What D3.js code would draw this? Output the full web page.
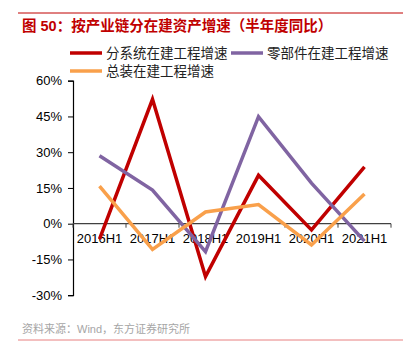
<!DOCTYPE html>
<html>
<head>
<meta charset="utf-8">
<script src="https://cdn.jsdelivr.net/npm/d3@7"></script>
<style>
  body { margin: 0; background: #fff; }
  text { font-family: "Liberation Sans", Arial, "Noto Sans CJK SC", sans-serif; }
</style>
</head>
<body>
<div id="chart"></div>
<script>
// Data
const periods = ["2016H1", "2017H1", "2018H1", "2019H1", "2020H1", "2021H1"];
const subsystem = [-6.5, 52.2, -22.2, 20.3, -2.6, 23.8];   // 分系统在建工程增速
const components = [28.5, 14.1, -11.7, 44.9, 17.0, -7.3];  // 零部件在建工程增速
const assembly = [15.8, -10.8, 4.9, 8.0, -8.9, 12.5];      // 总装在建工程增速
const yTicks = [-30, -15, 0, 15, 30, 45, 60];

const seriesNames = ["分系统在建工程增速", "零部件在建工程增速", "总装在建工程增速"];
const seriesColors = ["#C00000", "#8064A2", "#F9A04B"];
const seriesValues = [subsystem, components, assembly];

const W = 409, H = 359;
const plot = { left: 73, right: 391, top: 80.7, bottom: 295.2 };

const svg = d3.select("#chart").append("svg")
  .attr("width", W)
  .attr("height", H);

// Title and rules
svg.append("line")
  .attr("x1", 18).attr("x2", 403).attr("y1", 13).attr("y2", 13)
  .attr("stroke", "#C00000").attr("stroke-width", 1);
svg.append("text")
  .attr("x", 22).attr("y", 31)
  .attr("fill", "#C00000")
  .attr("font-size", 14.5).attr("font-weight", "bold")
  .text("图 50：按产业链分在建资产增速（半年度同比）");

svg.append("line")
  .attr("x1", 18).attr("x2", 403).attr("y1", 340).attr("y2", 340)
  .attr("stroke", "#E88080").attr("stroke-width", 1);
svg.append("text")
  .attr("x", 22).attr("y", 333)
  .attr("fill", "#A6A6A6")
  .attr("font-size", 11)
  .text("资料来源：Wind，东方证券研究所");

// Scales
const x = d3.scaleBand().domain(periods).range([plot.left, plot.right]);
const y = d3.scaleLinear().domain([-30, 60]).range([plot.bottom, plot.top]);

// Y axis
const yAxis = svg.append("g")
  .attr("transform", `translate(${plot.left},0)`)
  .call(d3.axisLeft(y).tickValues(yTicks).tickSize(5).tickPadding(6).tickFormat((d) => d + "%"));
yAxis.select(".domain").attr("stroke", "#000").attr("stroke-width", 1.2);
yAxis.selectAll(".tick line").attr("stroke", "#000");
yAxis.selectAll("text").attr("font-size", 13).attr("fill", "#000")
  .style("font-family", "'Liberation Sans', Arial, sans-serif");

// X axis on the zero line, ticks at category boundaries
const xAxis = svg.append("g")
  .attr("transform", `translate(0,${y(0)})`)
  .call(d3.axisBottom(x).tickSize(0).tickPadding(10));
xAxis.select(".domain").remove();
xAxis.selectAll("text").attr("font-size", 13).attr("fill", "#000")
  .style("font-family", "'Liberation Sans', Arial, sans-serif");
svg.append("line")
  .attr("x1", plot.left).attr("x2", plot.right)
  .attr("y1", y(0)).attr("y2", y(0))
  .attr("stroke", "#404040").attr("stroke-width", 1.2);
svg.append("g").selectAll("line")
  .data(periods.concat(["end"]))
  .join("line")
  .attr("x1", (d, i) => plot.left + i * x.bandwidth())
  .attr("x2", (d, i) => plot.left + i * x.bandwidth())
  .attr("y1", y(0)).attr("y2", y(0) + 4)
  .attr("stroke", "#404040");

// Lines
const line = d3.line()
  .x((d, i) => x(periods[i]) + x.bandwidth() / 2)
  .y((d) => y(d));

svg.append("g").selectAll("path")
  .data(seriesValues)
  .join("path")
  .attr("fill", "none")
  .attr("stroke", (d, i) => seriesColors[i])
  .attr("stroke-width", 3.5)
  .attr("stroke-linejoin", "miter")
  .attr("d", line);

// Legend
const legendPos = [[70, 53], [231, 53], [70, 71]];
const legend = svg.append("g").selectAll("g")
  .data(seriesNames)
  .join("g")
  .attr("transform", (d, i) => `translate(${legendPos[i][0]},${legendPos[i][1]})`);
legend.append("line")
  .attr("x1", 0).attr("x2", 32).attr("y1", 0).attr("y2", 0)
  .attr("stroke", (d, i) => seriesColors[i])
  .attr("stroke-width", 3.5);
legend.append("text")
  .attr("x", 36).attr("y", 5)
  .attr("font-size", 13.5).attr("fill", "#222")
  .text((d) => d);
</script>
</body>
</html>
